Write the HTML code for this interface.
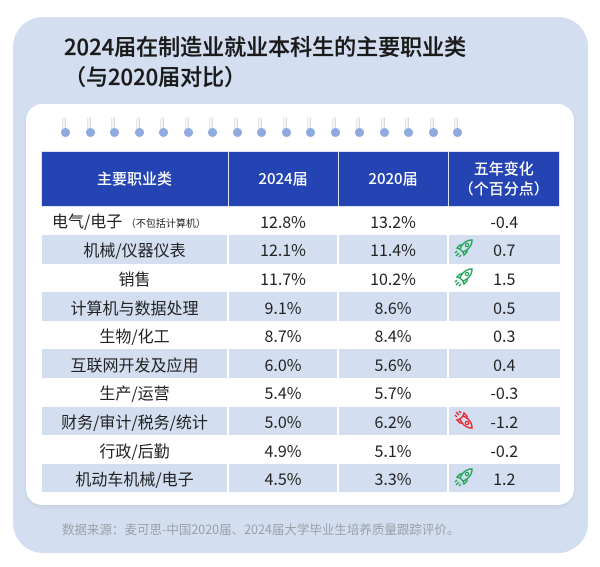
<!DOCTYPE html>
<html><head><meta charset="utf-8"><style>
*{margin:0;padding:0;box-sizing:border-box}
body{width:600px;height:567px;background:#fff;font-family:"Liberation Sans","Noto Sans CJK SC",sans-serif;position:relative;overflow:hidden}
.panel{position:absolute;left:13px;top:17px;width:575px;height:536px;background:#d3dff0;border-radius:30px}
.title{position:absolute;left:64px;top:31px;font-size:22px;font-weight:500;color:#1a1a1a;line-height:30px;font-family:"Noto Sans CJK SC",sans-serif;-webkit-text-stroke:0.3px #1a1a1a}
.card{position:absolute;left:26px;top:104px;width:548px;height:401px;background:#fff;border-radius:16px;box-shadow:0 2px 4px rgba(0,0,0,.08)}
.ring{position:absolute;top:117px;width:8px;height:20px}
.ring i{position:absolute;left:1px;top:0;width:4px;height:14px;background:linear-gradient(90deg,#ddd,#fff,#ccc);border-radius:2px}
.ring b{position:absolute;left:0;top:11px;width:9px;height:9px;border-radius:50%;background:#8eaadf}
table{position:absolute;left:40px;top:151px;width:520px;border-collapse:collapse;font-size:16px;color:#222;font-family:"Noto Sans CJK SC",sans-serif}
th{background:#2444b4;color:#fff;font-weight:500;height:55px;border:1px solid #dbe3f3;font-size:15px;line-height:20px}
td{height:28.6px;text-align:center;border-left:2px solid #fff;padding:0;line-height:20px}
td.l{text-align:left;padding-left:10px}
tr.a td{background:#d3def0}
td.c{position:relative}
td.c svg{position:absolute;left:5px;top:3px}
.sm{font-size:10px}
.foot{position:absolute;left:62px;top:519px;font-size:12.5px;color:#9aa0aa;font-family:"Noto Sans CJK SC",sans-serif}
</style></head><body>
<div class="panel"></div>
<div class="title">2024届在制造业就业本科生的主要职业类<br>（与2020届对比）</div>
<div class="card"></div>
<div id="rings"></div>
<table>
<tr><th style="width:187px">主要职业类</th><th style="width:110px">2024届</th><th style="width:110px">2020届</th><th>五年变化<br>（个百分点）</th></tr>
<tr><td class="l">电气/电子 <span class="sm">（不包括计算机）</span></td><td>12.8%</td><td>13.2%</td><td class="c">-0.4</td></tr>
<tr class="a"><td>机械/仪器仪表</td><td>12.1%</td><td>11.4%</td><td class="c"><svg width="20" height="20" class="g"></svg>0.7</td></tr>
<tr><td>销售</td><td>11.7%</td><td>10.2%</td><td class="c"><svg width="20" height="20" class="g"></svg>1.5</td></tr>
<tr class="a"><td>计算机与数据处理</td><td>9.1%</td><td>8.6%</td><td class="c">0.5</td></tr>
<tr><td>生物/化工</td><td>8.7%</td><td>8.4%</td><td class="c">0.3</td></tr>
<tr class="a"><td>互联网开发及应用</td><td>6.0%</td><td>5.6%</td><td class="c">0.4</td></tr>
<tr><td>生产/运营</td><td>5.4%</td><td>5.7%</td><td class="c">-0.3</td></tr>
<tr class="a"><td>财务/审计/税务/统计</td><td>5.0%</td><td>6.2%</td><td class="c"><svg width="20" height="20" class="r"></svg>-1.2</td></tr>
<tr><td>行政/后勤</td><td>4.9%</td><td>5.1%</td><td class="c">-0.2</td></tr>
<tr class="a"><td>机动车机械/电子</td><td>4.5%</td><td>3.3%</td><td class="c"><svg width="20" height="20" class="g"></svg>1.2</td></tr>
</table>
<div class="foot">数据来源：麦可思-中国2020届、2024届大学毕业生培养质量跟踪评价。</div>
<script>
var h='';for(var k=0;k<17;k++){h+='<div class="ring" style="left:'+(61+k*24.5)+'px"><i></i><b></b></div>';}
document.getElementById('rings').innerHTML=h;
var up='<path d="M18 2 C12 2 8 6 6 11 L9 14 C14 12 18 8 18 2 Z M6 11 L3 10 L6 7 L9 7 M9 14 L10 17 L13 14 L13 11 M5 15 L2 18 M7 17 L5 19 M3 13 L1 15" fill="none" stroke-width="1.5"/><circle cx="13" cy="7" r="1.6" fill="none" stroke-width="1.3"/>';
document.querySelectorAll('svg.g').forEach(function(s){s.innerHTML=up;s.setAttribute('stroke','#25a55a');});
document.querySelectorAll('svg.r').forEach(function(s){s.innerHTML='<g transform="rotate(90 10 10)">'+up+'</g>';s.setAttribute('stroke','#e8282e');});
</script>
</body></html>
